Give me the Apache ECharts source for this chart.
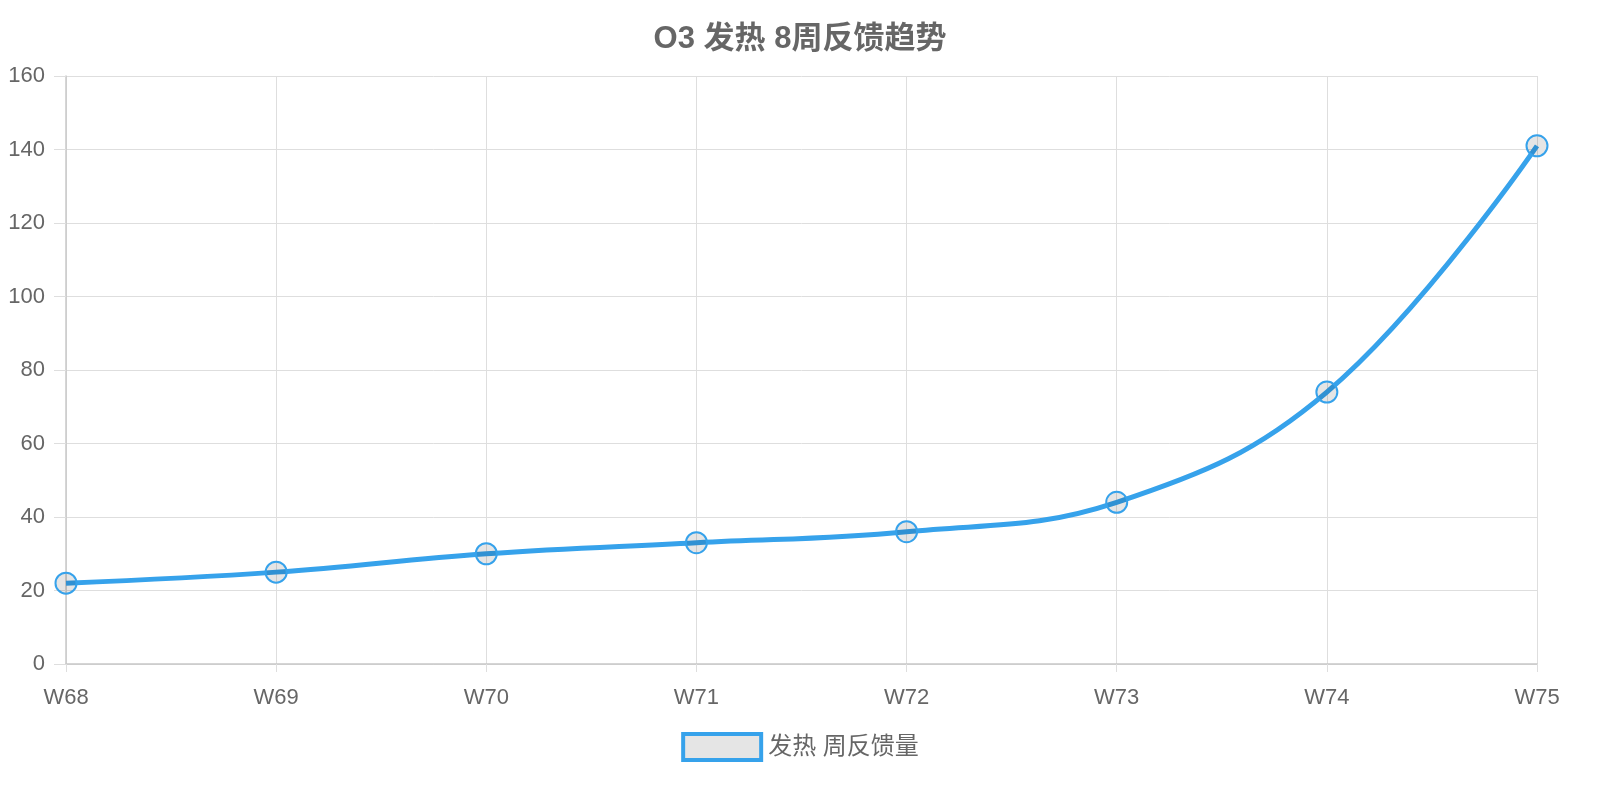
<!DOCTYPE html>
<html>
<head>
<meta charset="utf-8">
<title>O3 发热 8周反馈趋势</title>
<script src="https://cdn.jsdelivr.net/npm/echarts@6/dist/echarts.min.js"></script>
<style>
  html, body { margin: 0; padding: 0; background: #fff; }
  #chart { width: 1600px; height: 800px; }
</style>
</head>
<body>
<div id="chart"></div>
<script>
// 周次
var weeks = ['W68', 'W69', 'W70', 'W71', 'W72', 'W73', 'W74', 'W75'];
// 发热 周反馈量
var feverCounts = [22, 25, 30, 33, 36, 44, 74, 141];
var seriesName = '发热 周反馈量';
var titleText = 'O3 发热 8周反馈趋势';

var blue = '#36a2eb';
var textColor = '#666';
var gridColor = '#dedede';
var axisColor = '#c8c8c8';
var fontFamily = '"Liberation Sans", "Noto Sans CJK SC", sans-serif';

var myChart = echarts.init(document.getElementById('chart'));
var option = {
    animation: false,
    title: {
        text: titleText,
        left: 'center',
        top: 19,
        textStyle: { color: textColor, fontSize: 31, fontWeight: 'bold', fontFamily: fontFamily }
    },
    legend: {
        data: [seriesName],
        bottom: 33,
        left: 'center',
        icon: 'rect',
        itemWidth: 78,
        itemHeight: 26,
        itemGap: 10,
        itemStyle: { color: 'rgba(0,0,0,0.1)', borderColor: blue, borderWidth: 4 },
        textStyle: { color: textColor, fontSize: 24, fontFamily: fontFamily, padding: [0, 0, 0, 2] }
    },
    grid: { left: 66, right: 63, top: 76, bottom: 136, containLabel: false },
    xAxis: {
        type: 'category',
        data: weeks,
        boundaryGap: false,
        axisLine: { show: true, lineStyle: { color: axisColor, width: 1.5 } },
        axisTick: { show: true, length: 8, lineStyle: { color: gridColor } },
        axisLabel: { color: textColor, fontSize: 22, margin: 23, fontFamily: fontFamily },
        splitLine: { show: true, lineStyle: { color: gridColor, width: 1 } }
    },
    yAxis: {
        type: 'value',
        min: 0,
        max: 160,
        interval: 20,
        axisLine: { show: true, lineStyle: { color: axisColor, width: 1.5 } },
        axisTick: { show: true, length: 12, lineStyle: { color: gridColor } },
        axisLabel: { color: textColor, fontSize: 22, margin: 21, fontFamily: fontFamily },
        splitLine: { show: true, lineStyle: { color: gridColor, width: 1 } }
    },
    series: [{
        name: seriesName,
        type: 'line',
        data: feverCounts,
        smooth: 0.4,
        symbol: 'circle',
        symbolSize: 21,
        lineStyle: { color: blue, width: 5 },
        itemStyle: { color: 'rgba(0,0,0,0.1)', borderColor: blue, borderWidth: 2 },
        emphasis: { disabled: true }
    }]
};
myChart.setOption(option);
</script>
</body>
</html>
